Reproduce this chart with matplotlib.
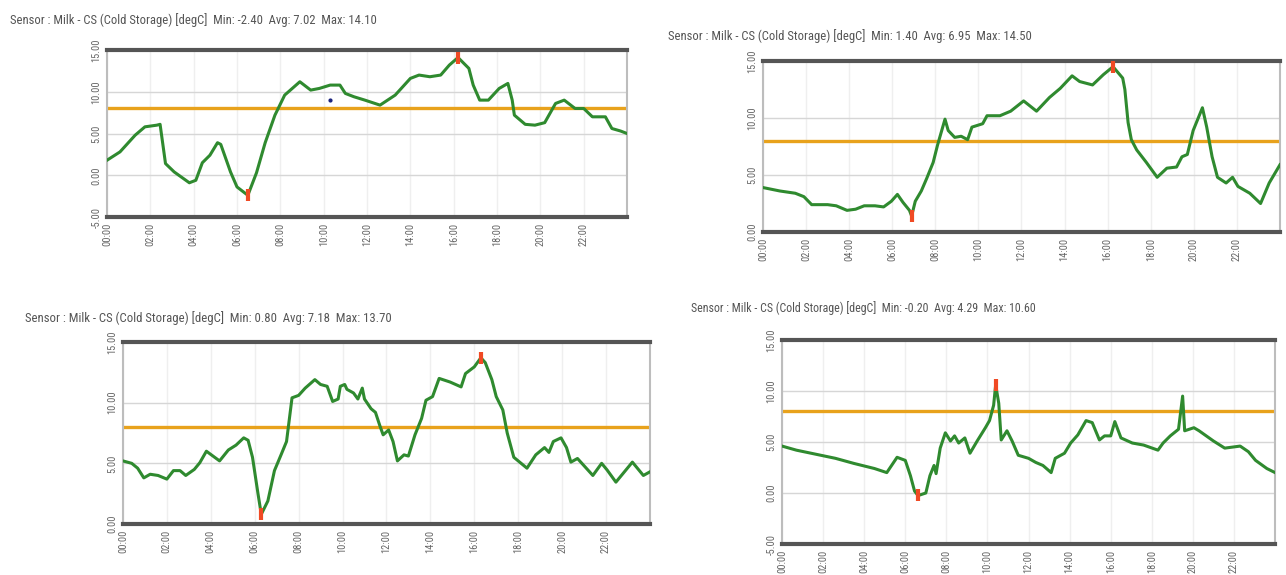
import matplotlib
matplotlib.use("Agg")
import matplotlib.pyplot as plt
from matplotlib import font_manager
from matplotlib.ticker import MultipleLocator

# temperature log of the milk cold storage, four separate days
hour_labels = ["00:00", "02:00", "04:00", "06:00", "08:00", "10:00",
               "12:00", "14:00", "16:00", "18:00", "20:00", "22:00"]
limit = 8.0

day1_h = [0, 0.6, 1.3, 1.75, 2.3, 2.45, 2.7, 3.1, 3.8, 4.1, 4.4, 4.75, 5.1, 5.25,
          5.7, 6.0, 6.5, 6.9, 7.3, 7.75, 8.2, 8.9, 9.4, 9.8, 10.3, 10.75, 11.0,
          11.4, 11.9, 12.6, 13.3, 14.0, 14.4, 14.9, 15.4, 15.8, 16.2, 16.7, 16.9,
          17.2, 17.6, 18.1, 18.5, 18.7, 18.8, 19.3, 19.75, 20.2, 20.7, 21.1,
          21.6, 22.0, 22.4, 23.0, 23.3, 23.7, 24.0]
day1_v = [1.8, 2.8, 4.8, 5.8, 6.0, 6.1, 1.4, 0.4, -0.9, -0.6, 1.5, 2.4, 3.9, 3.7,
          0.4, -1.4, -2.4, 0.3, 3.9, 7.2, 9.6, 11.2, 10.2, 10.4, 10.8, 10.8, 9.8,
          9.4, 9.0, 8.4, 9.6, 11.6, 12.0, 11.8, 12.0, 13.2, 14.1, 12.8, 10.8,
          9.0, 9.0, 10.4, 11.0, 9.0, 7.2, 6.1, 6.0, 6.3, 8.6, 9.0,
          8.0, 8.0, 7.0, 7.0, 5.6, 5.3, 5.0]

day2_h = [0, 0.78, 1.5, 1.9, 2.26, 3.0, 3.4, 3.9, 4.3, 4.7, 5.2, 5.6, 5.96, 6.24,
          6.5, 6.8, 6.9, 7.07, 7.35, 7.6, 7.9, 8.1, 8.45, 8.6, 8.9, 9.2, 9.5,
          9.7, 10.2, 10.4, 11.0, 11.5, 12.1, 12.7, 13.3, 13.8, 14.35, 14.7,
          15.3, 15.8, 16.25, 16.7, 16.8, 16.95, 17.1, 17.35, 17.8, 18.3, 18.75,
          19.2, 19.45, 19.7, 19.97, 20.4, 20.6, 20.85, 21.1, 21.5, 21.8, 22.05,
          22.6, 23.1, 23.5, 24.0]
day2_v = [3.9, 3.6, 3.4, 3.1, 2.4, 2.4, 2.3, 1.9, 2.0, 2.3, 2.3, 2.2, 2.7, 3.3,
          2.6, 1.9, 1.4, 2.7, 3.6, 4.7, 6.1, 7.6, 9.9, 8.9, 8.3, 8.4, 8.1,
          9.2, 9.5, 10.2, 10.2, 10.6, 11.5, 10.6, 11.8, 12.6, 13.7, 13.2,
          12.9, 13.8, 14.5, 13.5, 12.5, 9.6, 8.1, 7.2, 6.1, 4.8, 5.6,
          5.7, 6.6, 6.8, 8.9, 10.9, 9.2, 6.6, 4.8, 4.3, 4.8, 4.0,
          3.4, 2.5, 4.3, 5.9]

day3_h = [0, 0.4, 0.67, 0.95, 1.24, 1.6, 2.0, 2.3, 2.6, 2.86, 3.25, 3.5, 3.8,
          4.1, 4.4, 4.8, 5.15, 5.5, 5.7, 5.9, 6.15, 6.3, 6.6, 6.9, 7.2, 7.45,
          7.7, 8.0, 8.3, 8.74, 9.0, 9.3, 9.55, 9.8, 9.9, 10.1, 10.2, 10.5, 10.7,
          10.9, 11.0, 11.3, 11.5, 11.7, 11.85, 12.1, 12.3, 12.5, 12.8, 13.0,
          13.3, 13.6, 13.8, 14.1, 14.4, 14.9, 15.4, 15.6, 16.0, 16.3, 16.5,
          16.8, 17.0, 17.3, 17.5, 17.8, 18.4, 18.8, 19.2, 19.4, 19.6, 19.95,
          20.2, 20.4, 20.7, 21.4, 21.8, 22.05, 22.45, 23.2, 23.7, 24.0]
day3_v = [5.2, 5.0, 4.6, 3.8, 4.1, 4.0, 3.7, 4.4, 4.4, 4.0, 4.5, 5.05, 6.0,
          5.6, 5.2, 6.1, 6.5, 7.1, 6.9, 5.5, 2.5, 0.8, 1.9, 4.4, 5.7, 6.8,
          10.4, 10.6, 11.2, 11.9, 11.5, 11.35, 10.1, 10.3, 11.35, 11.5, 11.1,
          10.8, 10.3, 11.2, 10.3, 9.5, 9.2, 8.1, 7.35, 7.75, 6.8, 5.2, 5.7,
          5.6, 7.35, 8.7, 10.2, 10.5, 12.0, 11.7, 11.3, 12.4, 12.95, 13.7,
          13.3, 11.9, 10.5, 9.4, 7.5, 5.5, 4.6, 5.7, 6.3, 5.9, 6.8, 7.1,
          6.3, 5.1, 5.4, 4.0, 5.0, 4.45, 3.45, 5.1, 4.0, 4.3]

day4_h = [0, 0.7, 1.65, 2.6, 3.5, 4.5, 5.1, 5.4, 5.6, 6.0, 6.25, 6.45, 6.6,
          6.7, 7.0, 7.2, 7.4, 7.5, 7.7, 7.95, 8.2, 8.4, 8.6, 8.9, 9.15, 9.5,
          9.9, 10.1, 10.3, 10.4, 10.55, 10.67, 10.95, 11.2, 11.5, 12.0, 12.35,
          12.7, 13.1, 13.3, 13.75, 14.05, 14.4, 14.8, 15.1, 15.45, 15.7, 16.0,
          16.2, 16.5, 17.05, 17.6, 18.3, 18.55, 18.9, 19.3, 19.5, 19.6, 20.05,
          20.3, 21.0, 21.55, 22.3, 22.7, 23.05, 23.6, 24.0]
day4_v = [4.6, 4.2, 3.8, 3.4, 2.9, 2.4, 2.0, 2.9, 3.5, 3.2, 1.7, 0.2, -0.2,
          -0.2, 0.0, 1.7, 2.7, 1.9, 4.4, 5.9, 5.1, 5.6, 4.9, 5.4, 3.9, 5.1,
          6.4, 7.1, 8.6, 10.6, 8.8, 5.2, 6.1, 5.1, 3.7, 3.4, 3.0,
          2.7, 2.0, 3.4, 3.9, 4.9, 5.7, 7.1, 6.9, 5.2, 5.6, 5.6,
          7.0, 5.4, 4.9, 4.7, 4.2, 4.9, 5.6, 6.25, 9.5, 6.1, 6.4,
          6.1, 5.1, 4.4, 4.6, 4.05, 3.2, 2.4, 2.0]

# (min hour, min, avg, max hour, max)
stats = [(6.5, -2.40, 7.02, 16.2, 14.10),
         (6.9, 1.40, 6.95, 16.25, 14.50),
         (6.3, 0.80, 7.18, 16.3, 13.70),
         (6.6, -0.20, 4.29, 10.4, 10.60)]
ylims = [(-5, 15), (0, 15), (0, 15), (-5, 15)]

# odd blue reading in the first day
stray_h = [10.3]
stray_v = [9.0]

# the logger software uses a narrow sans; take one if the system has it
fonts = font_manager.fontManager.ttflist
names = {f.name for f in fonts}
narrow = None
for n in ['Liberation Sans Narrow', 'Roboto Condensed', 'Open Sans Condensed',
          'Noto Sans Condensed', 'DejaVu Sans Condensed', 'Arial Narrow']:
    if n in names:
        narrow = n
        break
stretch = 'normal'
if narrow is None:
    cond = [f.name for f in fonts if 'condensed' in str(f.stretch) and
            any(k in f.name for k in ['DejaVu Sans', 'Noto Sans', 'Open Sans', 'Roboto', 'Liberation Sans'])
            and 'Mono' not in f.name]
    if cond:
        narrow = cond[0]
        stretch = 'condensed'
    else:
        narrow = 'Liberation Sans'
font_list = [narrow, 'DejaVu Sans']

fig = plt.figure(figsize=(12.86, 5.75), dpi=100)
renderer = fig.canvas.get_renderer()

boxes = [[0.0832, 0.6226, 0.4044, 0.2904],
         [0.5933, 0.5965, 0.4020, 0.2974],
         [0.0956, 0.0887, 0.4098, 0.3165],
         [0.6081, 0.0539, 0.3834, 0.3548]]
title_pos = [(10, 20), (668, 36), (25, 318), (691, 308)]
title_width = [365, 362, 365, 345]
days = [(day1_h, day1_v), (day2_h, day2_v), (day3_h, day3_v), (day4_h, day4_v)]

for i in range(4):
    ax = fig.add_axes(boxes[i])
    hh, vv = days[i]
    lo_h, lo, avg, hi_h, hi = stats[i]

    ax.axhline(limit, color='#e8a21c', lw=2.4, zorder=2)
    ax.plot(hh, vv, color='#2f8a2f', lw=2.2, zorder=3)
    # red flags at the day's min and max
    ax.plot([lo_h, hi_h], [lo, hi], ls='none', marker='|', markersize=9,
            mew=3, color='#f04a24', zorder=4)
    if i == 0:
        ax.plot(stray_h, stray_v, ls='none', marker='o', markersize=2,
                color='#1a237e', zorder=4)

    ax.set_xlim(0, 24)
    ax.set_ylim(*ylims[i])
    ax.set_xticks(range(0, 24, 2))
    ax.set_xticklabels(hour_labels)
    ax.yaxis.set_major_locator(MultipleLocator(5))
    ax.set_yticklabels(['%.2f' % t for t in ax.get_yticks()])

    ax.grid(axis='y', color='#d6d6d6', lw=1)
    ax.grid(axis='x', color='#efefef', lw=1)
    ax.set_axisbelow(True)
    ax.tick_params(length=0, labelsize=7.5, labelcolor='#666666', pad=4)
    for lab in ax.get_xticklabels() + ax.get_yticklabels():
        lab.set_rotation(90)
        lab.set_family(font_list)
        lab.set_stretch(stretch)
    for lab in ax.get_yticklabels():
        lab.set_va('center')

    for s in ['top', 'bottom']:
        ax.spines[s].set_color('#555555')
        ax.spines[s].set_linewidth(3)
    for s in ['left', 'right']:
        ax.spines[s].set_color('#bdbdbd')
        ax.spines[s].set_linewidth(1.5)

    title = 'Sensor : Milk - CS (Cold Storage) [degC]  Min: %.2f  Avg: %.2f  Max: %.2f' % (lo, avg, hi)
    tx, ty = title_pos[i]
    t = fig.text(tx / 1286, 1 - ty / 575, title, fontsize=12,
                 color='#555555', family=font_list, stretch=stretch,
                 va='center', ha='left')
    # shrink the header so it spans the same width as in the logger export
    w = t.get_window_extent(renderer).width
    t.set_fontsize(min(12, 12 * title_width[i] / w))

fig.savefig('out.png', dpi=100, facecolor='white')
